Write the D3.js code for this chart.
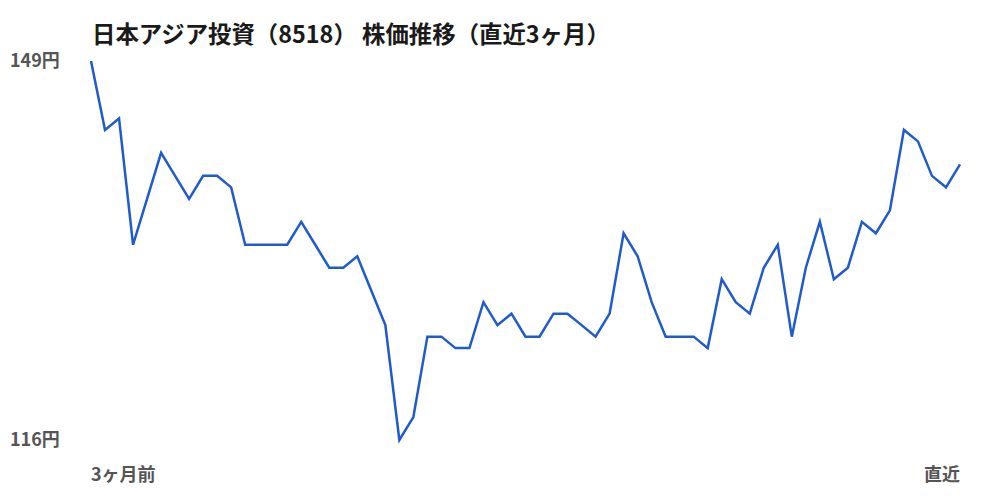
<!DOCTYPE html>
<html>

<head>
  <meta charset="utf-8">
  <title>日本アジア投資（8518） 株価推移（直近3ヶ月）</title>
  <style type="text/css">
    body {
      margin: 0;
      background: #fff;
    }

    svg {
      display: block;
      font-family: "Noto Sans CJK JP", "Noto Sans", sans-serif;
      font-weight: bold;
    }
  </style>
  <script type="text/javascript" src="https://cdn.jsdelivr.net/npm/d3@7/dist/d3.min.js"></script>
</head>

<body>
  <script>
    // 終値 (円)、3ヶ月前 → 直近
    var prices = [
      149, 143, 144, 133, 137, 141, 139, 137, 139, 139,
      138, 133, 133, 133, 133, 135, 133, 131, 131, 132,
      129, 126, 116, 118, 125, 125, 124, 124, 128, 126,
      127, 125, 125, 127, 127, 126, 125, 127, 134, 132,
      128, 125, 125, 125, 124, 130, 128, 127, 131, 133,
      125, 131, 135, 130, 131, 135, 134, 136, 143, 142,
      139, 138, 140
    ];

    // 軸ラベル
    var yTicks = [116, 149];
    var xLabels = ['3ヶ月前', '直近'];
    var title = '日本アジア投資（8518） 株価推移（直近3ヶ月）';

    var width = 1000, height = 500;
    var margin = { top: 61, right: 40, bottom: 60, left: 91 };

    var svg = d3.select('body').append('svg')
      .attr('width', width)
      .attr('height', height);

    var x = d3.scaleLinear()
      .domain([0, prices.length - 1])
      .range([margin.left, width - margin.right]);

    var y = d3.scaleLinear()
      .domain(d3.extent(prices))
      .range([height - margin.bottom, margin.top]);

    // タイトル
    svg.append('text')
      .attr('x', 92)
      .attr('y', 43)
      .attr('font-size', 23.4)
      .attr('fill', '#1a1a1a')
      .text(title);

    // 縦軸の最大・最小
    svg.selectAll('.ylabel')
      .data(yTicks)
      .enter()
      .append('text')
      .classed('ylabel', true)
      .attr('x', 10)
      .attr('y', d => y(d))
      .attr('dy', '0.35em')
      .attr('font-size', 18)
      .attr('fill', '#555')
      .text(d => d + '円');

    // 横軸の両端
    svg.selectAll('.xlabel')
      .data(xLabels)
      .enter()
      .append('text')
      .classed('xlabel', true)
      .attr('x', (d, i) => x(i * (prices.length - 1)))
      .attr('y', 475)
      .attr('dy', '0.35em')
      .attr('text-anchor', (d, i) => i ? 'end' : 'start')
      .attr('font-size', 18)
      .attr('fill', '#555')
      .text(d => d);

    var line = d3.line()
      .x((d, i) => x(i))
      .y(d => y(d));

    svg.append('path')
      .datum(prices)
      .attr('fill', 'none')
      .attr('stroke', '#1f5bcc')
      .attr('stroke-width', 2.5)
      .attr('d', line);
  </script>
</body>

</html>
